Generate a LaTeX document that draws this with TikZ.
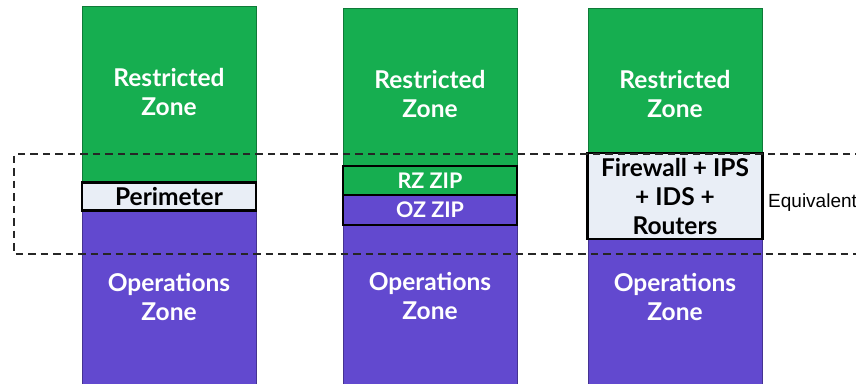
\documentclass[tikz,border=0pt]{standalone}
\usepackage{fontspec}
\setmainfont{Lato}
\newfontfamily\labelfont{Liberation Sans}
\definecolor{zonegreen}{HTML}{16AE50}
\definecolor{zonepurple}{HTML}{6249CF}
\definecolor{boxfill}{HTML}{E9EEF6}
\begin{document}
\begin{tikzpicture}[x=1pt,y=-1pt,
  greenzone/.style={fill=zonegreen,draw=zonegreen!70!black,line width=0.6pt},
  purplezone/.style={fill=zonepurple,draw=zonepurple!70!black,line width=0.6pt},
  zonetext/.style={text=white,font=\fontsize{24.5}{28.5}\selectfont\bfseries,align=center},
  layerbox/.style={draw=black,line width=2.2pt},
  layertext/.style={font=\fontsize{24.5}{29}\selectfont\bfseries,align=center},
  ziptext/.style={font=\fontsize{21.5}{24}\selectfont\bfseries,text=white},
  boundary/.style={draw=black!85,dash pattern=on 7.5pt off 5pt,line width=1.1pt}]
\useasboundingbox (0,0) rectangle (856,383);
\clip (0,0) rectangle (856,383);

% column 1: single perimeter
\draw[greenzone] (82,6) rectangle (256,196);
\draw[purplezone] (82,196) rectangle (256,390);
\node[zonetext] (rz1) at (169,92) {Restricted\\Zone};
\node[zonetext] (oz1) at (169,297) {Operations\\Zone};
\node[layerbox,fill=boxfill,minimum width=174pt,minimum height=28pt,inner sep=0pt,
  layertext] (per) at (169,196.5) {Perimeter};

% column 2: two zone interface points
\draw[greenzone] (343,8) rectangle (517,195);
\draw[purplezone] (343,195) rectangle (517,390);
\node[zonetext] (rz2) at (430,94) {Restricted\\Zone};
\node[zonetext] (oz2) at (430,296) {Operations\\Zone};
\node[layerbox,fill=zonegreen,minimum width=174pt,minimum height=29pt,inner sep=0pt,
  ziptext] (rzzip) at (430,180.5) {RZ ZIP};
\node[layerbox,fill=zonepurple,minimum width=174pt,minimum height=30pt,inner sep=0pt,
  ziptext] (ozzip) at (430,210) {OZ ZIP};

% column 3: equivalent devices
\draw[greenzone] (588,8) rectangle (762,196);
\draw[purplezone] (588,196) rectangle (762,390);
\node[zonetext] (rz3) at (675,94) {Restricted\\Zone};
\node[zonetext] (oz3) at (675,297) {Operations\\Zone};
\node[layerbox,fill=boxfill,minimum width=175pt,minimum height=86pt,inner sep=0pt,
  layertext] (devices) at (675,196) {Firewall + IPS\\+ IDS +\\Routers};

% dashed band of the perimeter layer, drawn over the columns
\draw[boundary] (900,154) -- (14,154) -- (14,254) -- (900,254);

\node[anchor=west,inner sep=0pt,font=\labelfont\fontsize{19}{22}\selectfont] (equiv)
  at (768,203) {Equivalent};
\end{tikzpicture}
\end{document}
